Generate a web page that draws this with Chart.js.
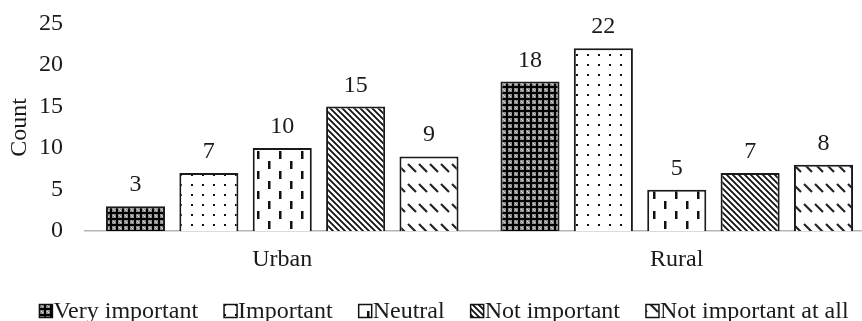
<!DOCTYPE html>
<html>
<head>
<meta charset="utf-8">
<script src="https://cdn.jsdelivr.net/npm/chart.js@4/dist/chart.umd.min.js"></script>
<style>
  html, body { margin: 0; padding: 0; background: #fff; overflow: hidden; }
  #wrap { width: 888px; height: 321px; }
</style>
</head>
<body>
<div id="wrap"><canvas id="countChart" width="888" height="321"></canvas></div>
<script>
// categories and counts per importance rating
const categories = ['Urban', 'Rural'];
const seriesNames = ['Very important', 'Important', 'Neutral', 'Not important', 'Not important at all'];
const veryImportant = [3, 18];
const important = [7, 22];
const neutral = [10, 5];
const notImportant = [15, 7];
const notImportantAtAll = [9, 8];
const yMax = 25;
const yStep = 5;

const FONT = "'Liberation Serif', 'Times New Roman', serif";
const FONT_SIZE = 24;
const INK = '#1a1a1a';

// --- fill patterns ---
function makePattern(w, h, draw) {
    const c = document.createElement('canvas');
    c.width = w; c.height = h;
    const g = c.getContext('2d');
    draw(g, w, h);
    return g.createPattern(c, 'repeat');
}

const patDark = makePattern(6, 6, function (g) {
    g.fillStyle = '#8c8c8c';
    g.fillRect(0, 0, 6, 6);
    g.fillStyle = '#000';
    g.fillRect(2, 0, 2, 6);
    g.fillRect(0, 2, 6, 2);
    g.fillStyle = '#dcdcdc';
    g.fillRect(0, 0, 1, 1);
    g.fillRect(5, 5, 1, 1);
});

const patDots = makePattern(11, 10, function (g) {
    g.fillStyle = '#fff';
    g.fillRect(0, 0, 11, 10);
    g.fillStyle = '#111';
    g.fillRect(4, 4, 2, 2);
});

const patDashes = makePattern(22, 20, function (g) {
    g.fillStyle = '#fff';
    g.fillRect(0, 0, 22, 20);
    g.fillStyle = '#111';
    g.fillRect(4, 1, 2.5, 8);
    g.fillRect(15, 11, 2.5, 8);
});

const patStripes = makePattern(6, 6, function (g) {
    g.fillStyle = '#fff';
    g.fillRect(0, 0, 6, 6);
    g.strokeStyle = '#111';
    g.lineWidth = 1.8;
    g.beginPath();
    g.moveTo(-1, -1); g.lineTo(7, 7);
    g.moveTo(-1, 5); g.lineTo(1, 7);
    g.moveTo(5, -1); g.lineTo(7, 1);
    g.stroke();
});

const patShortDiag = makePattern(11, 20, function (g) {
    g.fillStyle = '#fff';
    g.fillRect(0, 0, 11, 20);
    g.strokeStyle = '#222';
    g.lineWidth = 2.2;
    g.beginPath();
    g.moveTo(1, 4); g.lineTo(9, 12);
    g.stroke();
});

const fills = [patDark, patDots, patDashes, patStripes, patShortDiag];
const values = [veryImportant, important, neutral, notImportant, notImportantAtAll];

// value labels above each bar
const valueLabels = {
    id: 'valueLabels',
    afterDatasetsDraw(chart) {
        const ctx = chart.ctx;
        ctx.save();
        ctx.font = FONT_SIZE + 'px ' + FONT;
        ctx.fillStyle = INK;
        ctx.textAlign = 'center';
        ctx.textBaseline = 'alphabetic';
        chart.data.datasets.forEach(function (ds, i) {
            chart.getDatasetMeta(i).data.forEach(function (bar, j) {
                ctx.fillText(String(ds.data[j]), bar.x, bar.y - 15);
            });
        });
        ctx.restore();
    }
};

// compact legend row below the axis
const legendRow = {
    id: 'legendRow',
    afterDraw(chart) {
        const ctx = chart.ctx;
        const box = 13, gapText = 1, gapItem = 26;
        ctx.save();
        ctx.font = FONT_SIZE + 'px ' + FONT;
        const items = chart.data.datasets.map(function (ds) {
            return { label: ds.label, fill: ds.backgroundColor, w: box + gapText + ctx.measureText(ds.label).width };
        });
        const total = items.reduce(function (s, it) { return s + it.w; }, 0) + gapItem * (items.length - 1);
        let x = (chart.width - total) / 2;
        const cy = 311;
        items.forEach(function (it) {
            ctx.fillStyle = it.fill;
            ctx.fillRect(x, cy - box / 2, box, box);
            ctx.strokeStyle = '#111';
            ctx.lineWidth = 1.5;
            ctx.strokeRect(x, cy - box / 2, box, box);
            ctx.fillStyle = INK;
            ctx.textBaseline = 'middle';
            ctx.textAlign = 'left';
            ctx.fillText(it.label, x + box + gapText, cy + 1);
            x += it.w + gapItem;
        });
        ctx.restore();
    }
};

Chart.defaults.font.family = FONT;
Chart.defaults.font.size = FONT_SIZE;
Chart.defaults.color = INK;

new Chart(document.getElementById('countChart'), {
    type: 'bar',
    data: {
        labels: categories,
        datasets: seriesNames.map(function (name, i) {
            return {
                label: name,
                data: values[i],
                backgroundColor: fills[i],
                borderColor: '#1a1a1a',
                borderWidth: 2,
                categoryPercentage: 0.93,
                barPercentage: 0.805
            };
        })
    },
    options: {
        responsive: false,
        animation: false,
        layout: { padding: { left: 0, right: 14, top: 0, bottom: 33 } },
        plugins: {
            legend: { display: false },
            tooltip: { enabled: false }
        },
        scales: {
            x: {
                grid: { display: false, drawTicks: false },
                border: { display: true, color: '#b5b5b5', width: 1.5 },
                ticks: { padding: 14, color: INK }
            },
            y: {
                min: 0,
                max: yMax,
                // tick marks are hidden; tickLength only spaces the labels off the plot
                grid: { display: false, drawTicks: true, tickLength: 13 },
                border: { display: false },
                ticks: { stepSize: yStep, padding: 9, color: INK },
                title: { display: true, text: 'Count', color: INK, padding: { top: 5.6, bottom: -4.4 } }
            }
        }
    },
    plugins: [valueLabels, legendRow]
});
</script>
</body>
</html>
